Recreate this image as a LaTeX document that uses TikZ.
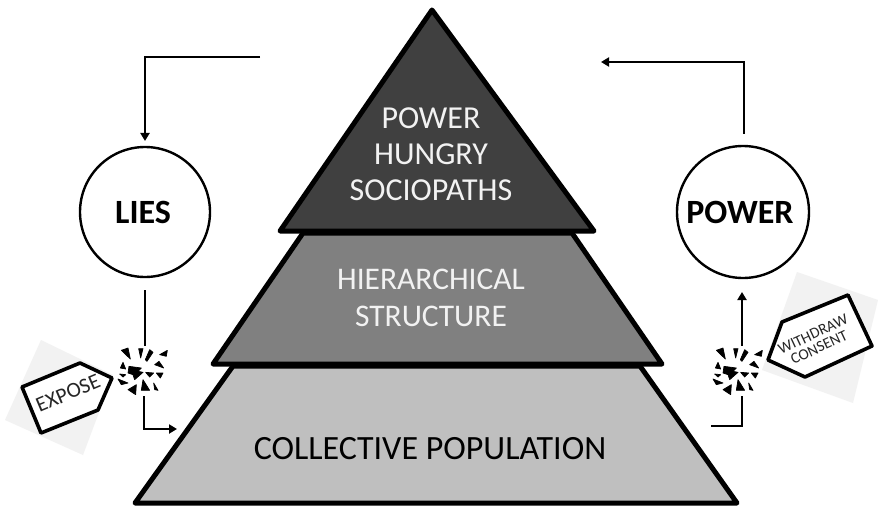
\documentclass[tikz,border=0pt]{standalone}
\usepackage{fontspec}
\setmainfont{Carlito}
\usetikzlibrary{arrows.meta}
\newcommand{\fsz}[1]{\fontsize{#1}{#1}\selectfont}
\tikzset{
  x=1pt,y=-1pt,
  tier/.style={draw=black,line width=5pt,line join=round},
  tiertext/.style={align=center,inner sep=0pt},
  ring/.style={circle,draw=black,line width=2.4pt,minimum size=130pt,inner sep=0pt,font=\fsz{34}\bfseries},
  flow/.style={draw=black,line width=2.6pt,line join=miter},
  flowtip/.style={flow,-{Triangle[length=8pt,width=9pt]}},
  shard/.style={fill=black,draw=black,line width=0.7pt,line join=round},
  tagbg/.style={fill=black!5,draw=none},
  tagline/.style={draw=black,line width=3.6pt,line join=round,fill=white},
  tagtext/.style={align=center,inner sep=0pt,text=black!85},
}
\newcommand{\burst}[2]{%
  \begin{scope}[shift={(#1,#2)},x=0.3333pt,y=-0.3333pt]
    \fill[white] (-80,-76) rectangle (80,76);
    \filldraw[shard] (-62,-62) -- (-42,-69) -- (-35,-36) -- cycle;
    \filldraw[shard] (-10,-67) -- (3,-67) -- (-4,-39) -- cycle;
    \filldraw[shard] (23,-64) -- (33,-56) -- (15,-29) -- (10,-34) -- cycle;
    \filldraw[shard] (53,-49) -- (76,-62) -- (73,-44) -- cycle;
    \filldraw[shard] (-65,-9) -- (-57,-26) -- (-49,-6) -- cycle;
    \filldraw[shard] (38,-19) -- (51,-29) -- (65,-9) -- cycle;
    \filldraw[shard] (-39,-14) -- (-2,-9) -- (-12,1) -- (3,4) -- (-22,26) -- (-27,11) -- (-42,6) -- cycle;
    \filldraw[shard] (-67,9) -- (-49,11) -- (-57,18) -- cycle;
    \filldraw[shard] (-72,24) -- (-42,36) -- (-62,41) -- cycle;
    \filldraw[shard] (11,4) -- (35,6) -- (23,18) -- cycle;
    \filldraw[shard] (43,6) -- (63,6) -- (55,21) -- cycle;
    \filldraw[shard] (-42,56) -- (-17,41) -- (-19,71) -- cycle;
    \filldraw[shard] (3,26) -- (23,58) -- (-2,58) -- cycle;
    \filldraw[shard] (35,36) -- (48,58) -- (38,56) -- cycle;
  \end{scope}}
\begin{document}
\begin{tikzpicture}
\useasboundingbox (0,0) rectangle (878,508);
\fill[white] (0,0) rectangle (878,508);

% tiers
\draw[tier,fill=black!25] (233,366) -- (640,366) -- (737,503) -- (135,503) -- cycle;
\draw[tier,fill=black!50] (303,233) -- (572,233) -- (662,364) -- (213,364) -- cycle;
\draw[tier,fill=black!75] (432,10) -- (594,231) -- (280,231) -- cycle;

\node[tiertext,text=black!5,font=\fsz{32}] (top) at (431,154) {POWER\\[4pt]HUNGRY\\[4pt]SOCIOPATHS};
\node[tiertext,text=black!5,font=\fsz{31.5}] (mid) at (431,298) {HIERARCHICAL\\[5pt]STRUCTURE};
\node[tiertext,text=black,font=\fsz{34}] (base) at (430,449) {COLLECTIVE POPULATION};

% circles
\node[ring] (lies) at (145,212) {\kern-4pt LIES};
\node[ring,minimum size=132pt] (power) at (743,212) {\kern-6pt POWER};

% left loop
\coordinate (a1) at (260,57);
\coordinate (a2) at (145,57);
\coordinate (a3) at (145,141);
\draw[flowtip] (a1) -- (a2) -- (a3);
\coordinate (b1) at (145,290);
\coordinate (b2) at (145,350);
\draw[flow] (b1) -- (b2);
\coordinate (b3) at (144,395);
\coordinate (b4) at (144,429);
\coordinate (b5) at (177,429);
\draw[flowtip] (b3) -- (b4) -- (b5);

% right loop
\coordinate (c1) at (711,426);
\coordinate (c2) at (742,426);
\coordinate (c3) at (742,292);
\draw[flowtip] (c1) -- (c2) -- (c3);
\coordinate (d1) at (744,134);
\coordinate (d2) at (744,62);
\coordinate (d3) at (601,62);
\draw[flowtip] (d1) -- (d2) -- (d3);

% bursts
\burst{142}{371}
\burst{737}{371}

% tags
\fill[tagbg] (41,340) -- (113,375) -- (83,455) -- (5,420) -- cycle;
\draw[tagline] (22,387) -- (80,363) -- (112,378) -- (98,410) -- (41,433) -- cycle;
\node[tagtext,font=\fsz{21.5},rotate=23] (expose) at (68,393) {EXPOSE};

\fill[tagbg] (797,272) -- (878,300) -- (853,403) -- (762,370) -- cycle;
\draw[tagline] (782,322) -- (848,295) -- (872,346) -- (805,377) -- (768,360) -- cycle;
\node[tagtext,font=\fsz{15.5},rotate=25] (withdraw) at (816,341) {WITHDRAW\\[-1pt]CONSENT};
\end{tikzpicture}
\end{document}
